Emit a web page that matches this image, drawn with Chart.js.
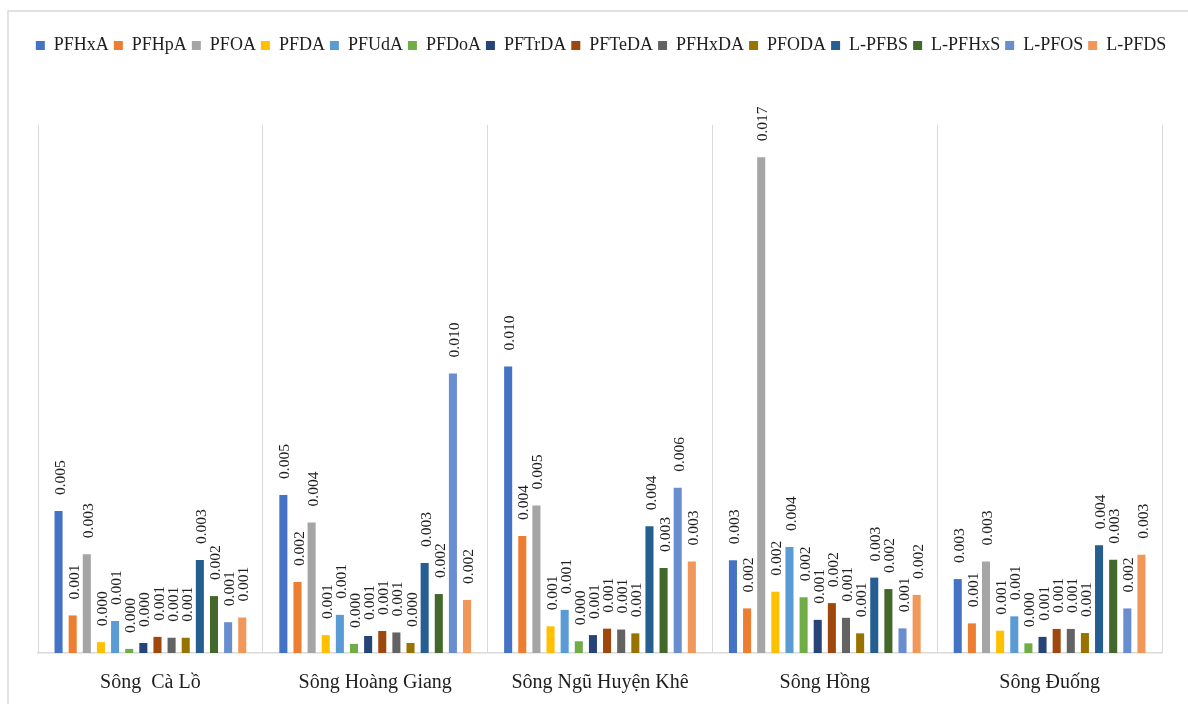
<!DOCTYPE html>
<html>
<head>
<meta charset="utf-8">
<script src="https://cdn.jsdelivr.net/npm/chart.js@4/dist/chart.umd.min.js"></script>
<style>
  html, body { margin: 0; padding: 0; background: #ffffff; }
  #wrap { width: 1188px; height: 704px; position: relative; }
</style>
</head>
<body>
<div id="wrap"><canvas id="c" width="1188" height="704"></canvas></div>
<script>
const categories = ["Sông  Cà Lồ", "Sông Hoàng Giang", "Sông Ngũ Huyện Khê", "Sông Hồng", "Sông Đuống"];
const seriesNames = ["PFHxA", "PFHpA", "PFOA", "PFDA", "PFUdA", "PFDoA", "PFTrDA", "PFTeDA", "PFHxDA", "PFODA", "L-PFBS", "L-PFHxS", "L-PFOS", "L-PFDS"];
const seriesColors = ["#4472C4", "#ED7D31", "#A5A5A5", "#FFC000", "#5B9BD5", "#70AD47", "#264478", "#9E480E", "#636363", "#997300", "#255E91", "#43682B", "#698ED0", "#F1975A"];

const PFHxA  = [0.00484, 0.00539, 0.00977, 0.00316, 0.00252];
const PFHpA  = [0.00128, 0.00242, 0.00399, 0.00152, 0.00101];
const PFOA   = [0.00337, 0.00445, 0.00503, 0.01690, 0.00312];
const PFDA   = [0.00037, 0.00061, 0.00091, 0.00209, 0.00076];
const PFUdA  = [0.00109, 0.00130, 0.00147, 0.00361, 0.00125];
const PFDoA  = [0.00014, 0.00031, 0.00040, 0.00190, 0.00033];
const PFTrDA = [0.00034, 0.00058, 0.00061, 0.00113, 0.00055];
const PFTeDA = [0.00055, 0.00075, 0.00083, 0.00170, 0.00082];
const PFHxDA = [0.00052, 0.00070, 0.00080, 0.00120, 0.00082];
const PFODA  = [0.00052, 0.00034, 0.00067, 0.00067, 0.00068];
const L_PFBS = [0.00317, 0.00307, 0.00432, 0.00257, 0.00367];
const L_PFHxS= [0.00194, 0.00201, 0.00290, 0.00218, 0.00318];
const L_PFOS = [0.00105, 0.00953, 0.00563, 0.00084, 0.00152];
const L_PFDS = [0.00121, 0.00181, 0.00312, 0.00198, 0.00335];

const seriesValues = [PFHxA, PFHpA, PFOA, PFDA, PFUdA, PFDoA, PFTrDA, PFTeDA, PFHxDA, PFODA, L_PFBS, L_PFHxS, L_PFOS, L_PFDS];

const SERIF = "'Liberation Serif', 'Times New Roman', 'DejaVu Serif', serif";
const TEXT = "#1e1e1e";

const datasets = seriesNames.map((name, i) => ({
  label: name,
  data: seriesValues[i],
  backgroundColor: seriesColors[i],
  borderWidth: 0,
  categoryPercentage: 0.88,
  barPercentage: 0.57
}));

const framePlugin = {
  id: 'frame',
  beforeDraw(chart) {
    const ctx = chart.ctx;
    ctx.save();
    ctx.fillStyle = '#ffffff';
    ctx.fillRect(0, 0, chart.width, chart.height);
    ctx.strokeStyle = '#D9D9D9';
    ctx.lineWidth = 1.5;
    ctx.beginPath();
    ctx.moveTo(8, chart.height + 2);
    ctx.lineTo(8, 11);
    ctx.lineTo(chart.width + 2, 11);
    ctx.stroke();
    ctx.restore();
  }
};

const legendHeightPlugin = {
  id: 'legendHeight',
  beforeInit(chart) {
    const orig = chart.legend.fit;
    chart.legend.fit = function () {
      orig.call(this);
      this.height = 93.5;
    };
  }
};

const valueLabels = {
  id: 'valueLabels',
  afterDatasetsDraw(chart) {
    const ctx = chart.ctx;
    ctx.save();
    ctx.font = "15.5px " + SERIF;
    ctx.fillStyle = TEXT;
    ctx.textAlign = 'left';
    ctx.textBaseline = 'middle';
    chart.data.datasets.forEach((ds, di) => {
      const meta = chart.getDatasetMeta(di);
      meta.data.forEach((el, idx) => {
        const v = ds.data[idx];
        ctx.save();
        ctx.translate(el.x + 2, el.y - 16);
        ctx.rotate(-Math.PI / 2);
        ctx.fillText(v.toFixed(3), 0, 0);
        ctx.restore();
      });
    });
    ctx.restore();
  }
};

new Chart(document.getElementById('c'), {
  type: 'bar',
  data: { labels: categories, datasets },
  options: {
    responsive: false,
    animation: false,
    layout: { padding: { left: 14, right: 0, top: 31.5, bottom: 0 } },
    plugins: {
      legend: {
        position: 'top',
        align: 'center',
        labels: {
          boxWidth: 9,
          boxHeight: 9,
          padding: 5,
          color: TEXT,
          font: { family: SERIF, size: 18 }
        }
      },
      tooltip: { enabled: false },
      title: { display: false }
    },
    scales: {
      x: {
        grid: { display: true, color: '#D9D9D9', lineWidth: 1, drawTicks: false, offset: true },
        border: { display: true, color: '#D9D9D9', width: 1.5 },
        ticks: { color: TEXT, font: { family: SERIF, size: 20 }, padding: 18, maxRotation: 0, autoSkip: false },
        afterFit(scale) { scale.height = 51; }
      },
      y: {
        min: 0,
        max: 0.018,
        display: true,
        grid: { display: false },
        border: { display: false },
        ticks: { display: false },
        afterFit(scale) { scale.width = 24; }
      },
      y2: {
        position: 'right',
        min: 0,
        max: 0.018,
        display: true,
        grid: { display: false },
        border: { display: false },
        ticks: { display: false },
        afterFit(scale) { scale.width = 26; }
      }
    }
  },
  plugins: [framePlugin, legendHeightPlugin, valueLabels]
});
</script>
</body>
</html>
